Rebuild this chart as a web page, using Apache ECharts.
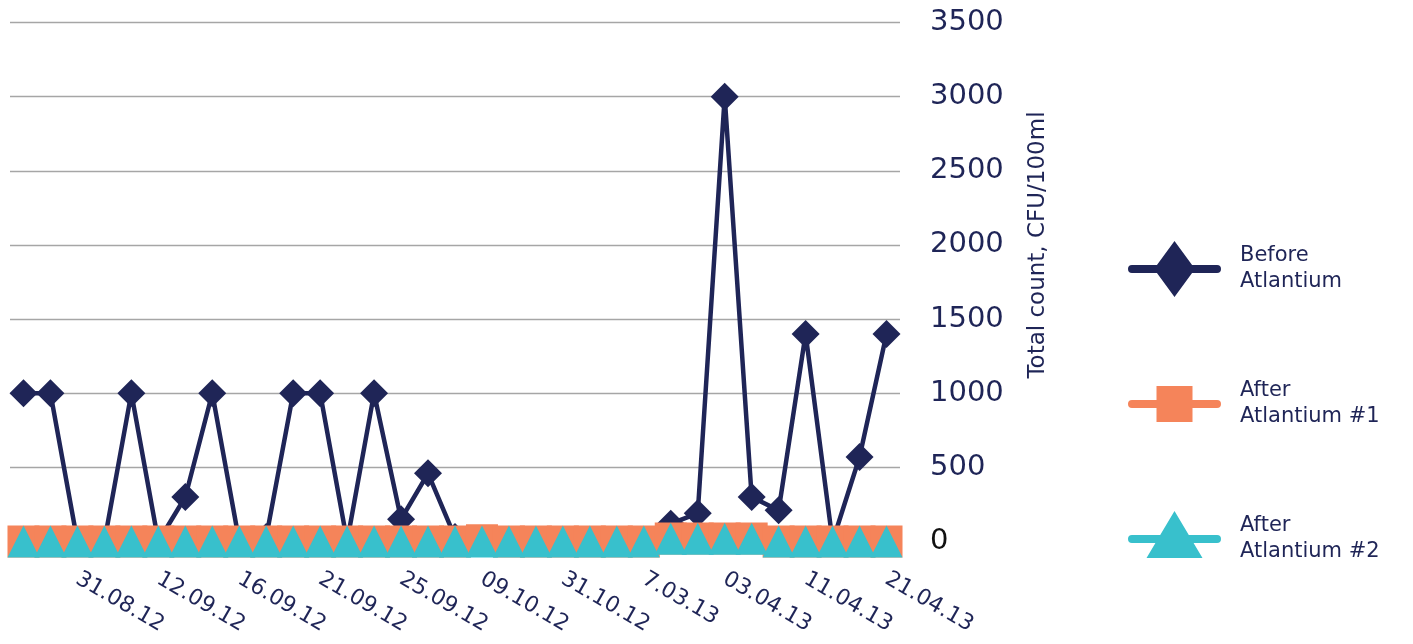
<!DOCTYPE html>
<html><head><meta charset="utf-8">
<script src="https://cdn.jsdelivr.net/npm/echarts@6/dist/echarts.min.js"></script>
<style>html,body{margin:0;padding:0;background:#fff}#c{width:1413px;height:644px}</style>
</head><body><div id="c"></div>
<script>
// Tick labels shown on the x axis (every third sample date)
const tickLabels = ['31.08.12','12.09.12','16.09.12','21.09.12','25.09.12','09.10.12','31.10.12','7.03.13','03.04.13','11.04.13','21.04.13'];
// Total count, CFU/100ml per sample
const beforeAtlantium = [1000,1000,0,0,1000,0,300,1000,0,30,1000,1000,0,1000,150,460,30,0,0,0,0,0,0,0,120,190,3000,300,210,1400,0,570,1400];
const afterAtlantium1 = [0,0,0,0,0,0,0,0,0,0,0,0,0,0,0,0,0,8,0,0,0,0,0,0,20,20,20,20,0,0,0,0,0];
const afterAtlantium2 = [0,0,0,0,0,0,0,0,0,0,0,0,0,0,0,0,0,0,0,0,0,0,0,0,18,18,18,18,0,0,0,0,0];
const seriesNames = ['Before Atlantium','After Atlantium #1','After Atlantium #2'];
const yAxisTitle = 'Total count, CFU/100ml';

const categories = beforeAtlantium.map((_, i) => (i % 3 === 2 ? tickLabels[(i - 2) / 3] : ''));

const NAVY = '#1F2557', ORANGE = '#F5845A', TEAL = '#38C0CC';
const FONT = 'DejaVu Sans';
const bar = 'M4 24L89 24A4 4 0 0 1 89 32L4 32A4 4 0 0 1 4 24Z';
const icons = [
  'path://' + bar + ' M46.5 0L67 28L46.5 56L26 28Z',
  'path://M46.5 0L46.5 0Z ' + bar + ' M28.5 10L64.5 10L64.5 46L28.5 46Z M46.5 56L46.5 56Z',
  'path://' + bar + ' M46.5 0L74.5 47L18.5 47Z M46.5 56L46.5 56Z'
];

const chart = echarts.init(document.getElementById('c'));
chart.setOption({
  animation: false,
  backgroundColor: '#fff',
  grid: { left: 10, right: 513, top: 22.5, bottom: 102.5, containLabel: false },
  legend: {
    orient: 'vertical', left: 1123, top: 236,
    itemWidth: 93, itemHeight: 56, itemGap: 79,
    itemStyle: { borderWidth: 0 },
    data: seriesNames.map((n, i) => ({ name: n, icon: icons[i] })),
    formatter: n => n.replace(' ', '\n'),
    textStyle: { fontFamily: FONT, fontSize: 21, lineHeight: 26, color: NAVY, padding: [0, 0, 0, 14] }
  },
  xAxis: {
    type: 'category', data: categories, boundaryGap: true,
    axisLine: { show: false }, axisTick: { show: false },
    axisLabel: { interval: 0, rotate: -30, margin: 36, fontFamily: FONT, fontSize: 22, color: NAVY }
  },
  yAxis: {
    type: 'value', position: 'right', min: 0, max: 3500, interval: 500,
    axisLine: { show: false }, axisTick: { show: false },
    splitLine: { lineStyle: { color: '#a6a6a6', width: 1.3 } },
    axisLabel: { margin: 30, fontFamily: FONT, fontSize: 29, formatter: v => String(v),
      color: v => (Number(v) === 0 ? '#111111' : NAVY) },
    name: yAxisTitle, nameLocation: 'middle', nameGap: 127,
    nameTextStyle: { fontFamily: FONT, fontSize: 23, color: NAVY, padding: [0, 0, 0, 74] }
  },
  series: [
    { name: seriesNames[0], type: 'line', data: beforeAtlantium, showAllSymbol: true,
      symbol: 'diamond', symbolSize: 28, color: NAVY,
      lineStyle: { width: 4.5, color: NAVY }, itemStyle: { color: NAVY, borderWidth: 0 } },
    { name: seriesNames[1], type: 'line', data: afterAtlantium1, showAllSymbol: true,
      symbol: 'rect', symbolSize: 32, color: ORANGE,
      lineStyle: { width: 8, color: ORANGE }, itemStyle: { color: ORANGE, borderWidth: 0 } },
    { name: seriesNames[2], type: 'line', data: afterAtlantium2, showAllSymbol: true,
      symbol: 'triangle', symbolSize: 32, color: TEAL,
      lineStyle: { width: 8, color: TEAL }, itemStyle: { color: TEAL, borderWidth: 0 } }
  ]
});
</script></body></html>
